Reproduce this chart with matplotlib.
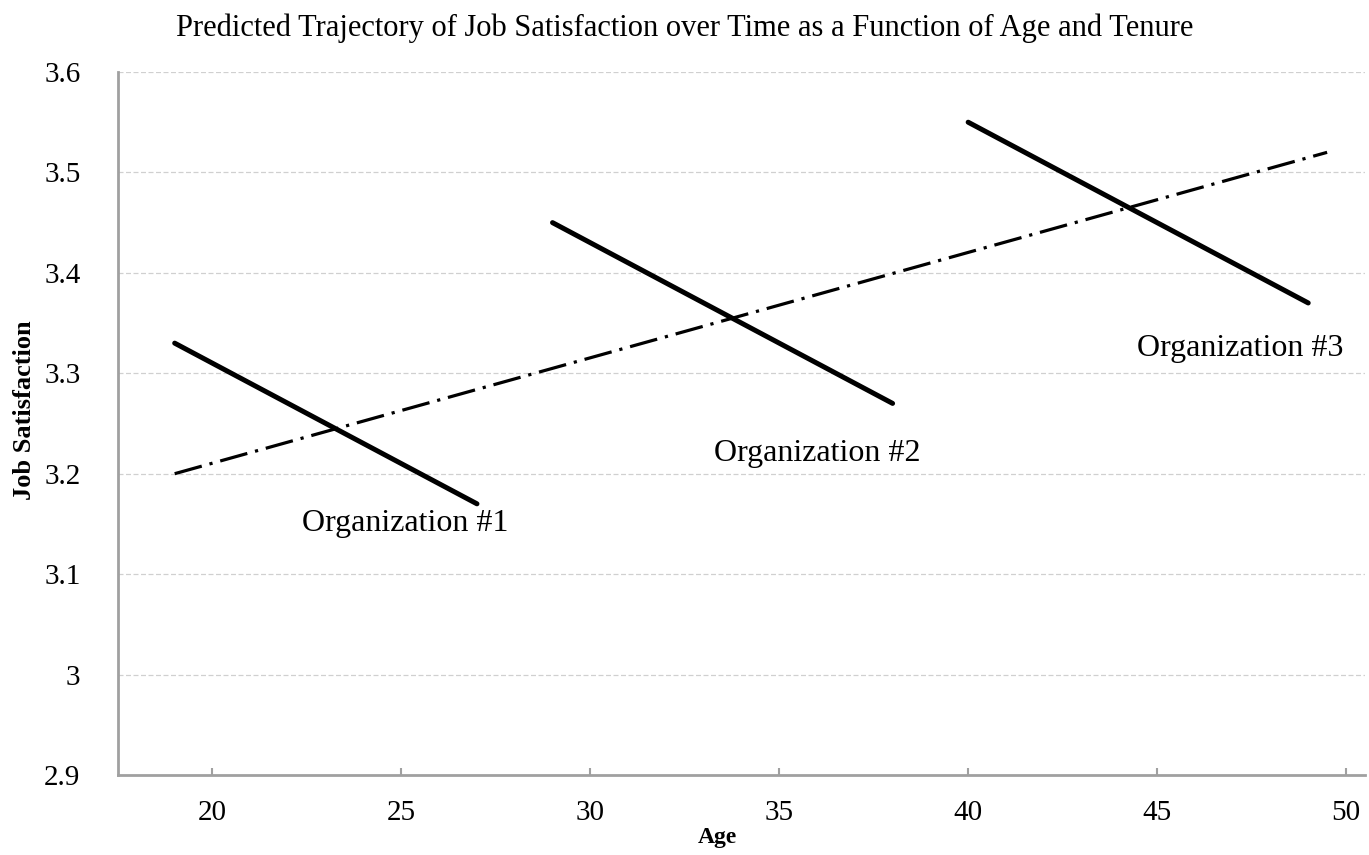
import matplotlib
matplotlib.use("Agg")
import matplotlib.pyplot as plt

# values
org1_age = [19, 27]
org1_sat = [3.33, 3.17]
org2_age = [29, 38]
org2_sat = [3.45, 3.27]
org3_age = [40, 49]
org3_sat = [3.55, 3.37]
trend_age = [19, 49.5]
trend_sat = [3.2, 3.52]

org_labels = ["Organization #1", "Organization #2", "Organization #3"]
label_x = [25.1, 36.0, 47.2]
label_y = [3.15, 3.22, 3.325]

x_ticks = [20, 25, 30, 35, 40, 45, 50]
y_ticks = [2.9, 3.0, 3.1, 3.2, 3.3, 3.4, 3.5, 3.6]
y_tick_labels = ["2.9", "3", "3.1", "3.2", "3.3", "3.4", "3.5", "3.6"]

plt.rcParams['font.family'] = ['Liberation Serif', 'DejaVu Serif']

fig = plt.figure(figsize=(13.69, 8.55), dpi=100)
ax = fig.add_axes([0.0862, 0.0936, 0.9108, 0.8222])

# gridlines
for y in y_ticks[1:]:
    ax.axhline(y, color='#d0d0d0', linestyle=(0, (4, 2)), linewidth=0.9, zorder=0)

# organisation trajectories and overall trend
ax.plot(org1_age, org1_sat, color='black', linewidth=3.6, solid_capstyle='round')
ax.plot(org2_age, org2_sat, color='black', linewidth=3.6, solid_capstyle='round')
ax.plot(org3_age, org3_sat, color='black', linewidth=3.6, solid_capstyle='round')
ax.plot(trend_age, trend_sat, color='black', linewidth=2.3,
        linestyle=(0, (8.8, 2.5, 1, 2.5)))

for lab, lx, ly in zip(org_labels, label_x, label_y):
    ax.text(lx, ly, lab, fontsize=23, ha='center', va='center')

ax.set_xlim(17.5, 50.5)
ax.set_ylim(2.9, 3.6)
ax.set_xticks(x_ticks)
ax.set_yticks(y_ticks)
ax.set_yticklabels(y_tick_labels)
ax.tick_params(axis='x', direction='in', length=5, width=1.5, color='#a0a0a0',
               labelsize=21, pad=18)
ax.tick_params(axis='y', length=0, labelsize=21, pad=27)

for side in ['top', 'right']:
    ax.spines[side].set_visible(False)
for side in ['left', 'bottom']:
    ax.spines[side].set_color('#a0a0a0')
    ax.spines[side].set_linewidth(2)

fig.text(0.5, 0.967, "Predicted Trajectory of Job Satisfaction over Time as a Function of Age and Tenure",
         fontsize=22, ha='center', va='center')
fig.text(0.524, 0.02, "Age", fontsize=17, fontweight='bold', ha='center', va='center')
fig.text(0.018, 0.52, "Job Satisfaction", fontsize=19, fontweight='bold',
         rotation=90, ha='center', va='center')

fig.savefig("out.png", dpi=100)
